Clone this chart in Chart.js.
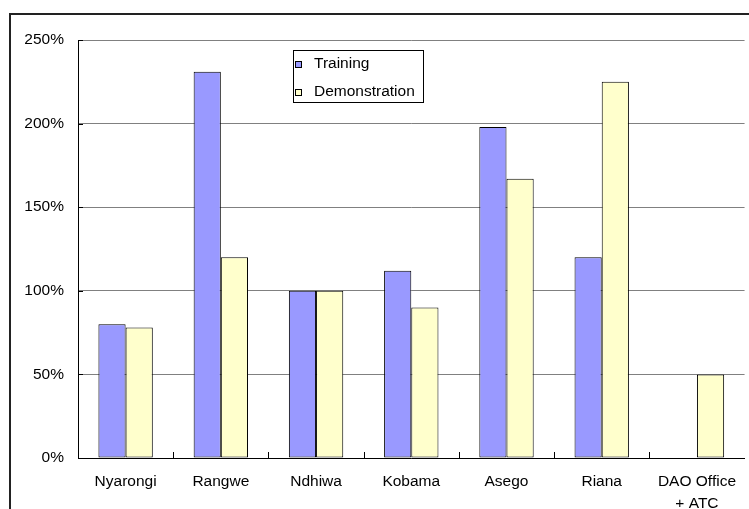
<!DOCTYPE html>
<html>
<head>
<meta charset="utf-8">
<script src="https://cdn.jsdelivr.net/npm/chart.js@4"></script>
<style>
  html, body { margin: 0; padding: 0; background: #fff; }
  canvas { display: block; }
</style>
</head>
<body>
<canvas id="chart" width="749" height="509"></canvas>
<script>
// Sites and achievement rates (% of target)
const categories = ['Nyarongi', 'Rangwe', 'Ndhiwa', 'Kobama', 'Asego', 'Riana', ['DAO Office', '+ ATC']];
const trainingValues = [80, 231, 100, 112, 198, 120, null];
const demonstrationValues = [78, 120, 100, 90, 167, 225, 50];
const yTicks = [0, 50, 100, 150, 200, 250];

const FONT = 'Liberation Sans, Arial, sans-serif';

// Outer frame of the chart object
const framePlugin = {
  id: 'frame',
  beforeDraw(chart) {
    const ctx = chart.ctx;
    ctx.save();
    ctx.fillStyle = '#fff';
    ctx.fillRect(0, 0, chart.width, chart.height);
    ctx.strokeStyle = '#222';
    ctx.lineWidth = 2;
    ctx.strokeRect(10, 14, chart.width + 20, chart.height + 20);
    ctx.restore();
  }
};

// Short tick marks pointing into the plot area
const innerTicksPlugin = {
  id: 'innerTicks',
  afterDatasetsDraw(chart) {
    const ctx = chart.ctx;
    const x = chart.scales.x, y = chart.scales.y;
    ctx.save();
    ctx.strokeStyle = '#000';
    ctx.lineWidth = 1;
    ctx.beginPath();
    yTicks.forEach(v => {
      const py = Math.round(y.getPixelForValue(v)) + 0.5;
      ctx.moveTo(x.left, py);
      ctx.lineTo(x.left + 5, py);
    });
    for (let i = 1; i < categories.length; i++) {
      const px = Math.round(x.getPixelForValue(i - 0.5)) + 0.5;
      ctx.moveTo(px, y.bottom);
      ctx.lineTo(px, y.bottom - 6);
    }
    ctx.stroke();
    ctx.restore();
  }
};

// Boxed legend placed inside the plot area
const boxLegendPlugin = {
  id: 'boxLegend',
  afterDraw(chart) {
    const ctx = chart.ctx;
    ctx.save();
    ctx.strokeStyle = '#000';
    ctx.lineWidth = 1;
    ctx.fillStyle = '#fff';
    ctx.fillRect(293.5, 50.5, 130, 52);
    ctx.strokeRect(293.5, 50.5, 130, 52);
    ctx.font = '15.5px ' + FONT;
    ctx.textBaseline = 'alphabetic';
    ctx.textAlign = 'left';
    chart.data.datasets.forEach((ds, i) => {
      const base = 68 + i * 28;
      ctx.fillStyle = ds.backgroundColor;
      ctx.fillRect(295.5, base - 6.5, 6, 6);
      ctx.strokeRect(295.5, base - 6.5, 6, 6);
      ctx.fillStyle = '#000';
      ctx.fillText(ds.label, 314, base);
    });
    ctx.restore();
  }
};

new Chart(document.getElementById('chart'), {
  type: 'bar',
  data: {
    labels: categories,
    datasets: [
      {
        label: 'Training',
        data: trainingValues,
        backgroundColor: '#9999FF',
        borderColor: '#000',
        borderWidth: 1,
        borderSkipped: false
      },
      {
        label: 'Demonstration',
        data: demonstrationValues,
        backgroundColor: '#FFFFCC',
        borderColor: '#000',
        borderWidth: 1,
        borderSkipped: false
      }
    ]
  },
  options: {
    responsive: false,
    animation: false,
    events: [],
    layout: { padding: { left: 0, right: 0, top: 40, bottom: 0 } },
    datasets: { bar: { categoryPercentage: 0.571, barPercentage: 1.0 } },
    plugins: {
      legend: { display: false },
      tooltip: { enabled: false },
      title: { display: false }
    },
    scales: {
      x: {
        offset: true,
        grid: { display: false, drawTicks: false },
        border: { display: true, color: '#000', width: 1 },
        ticks: {
          color: '#000',
          padding: 13,
          maxRotation: 0,
          autoSkip: false,
          font: { family: FONT, size: 15.5, lineHeight: 1.42 }
        },
        afterFit(scale) { scale.height = 51; }
      },
      y: {
        min: 0,
        max: 250,
        grid: { color: '#808080', lineWidth: 1, drawTicks: false },
        border: { display: true, color: '#000', width: 1 },
        afterBuildTicks(scale) { scale.ticks = yTicks.map(v => ({ value: v })); },
        ticks: {
          color: '#000',
          padding: 14,
          font: { family: FONT, size: 15.5 },
          callback: v => v + '%'
        },
        afterFit(scale) { scale.width = 78; }
      }
    }
  },
  plugins: [framePlugin, innerTicksPlugin, boxLegendPlugin]
});
</script>
</body>
</html>
